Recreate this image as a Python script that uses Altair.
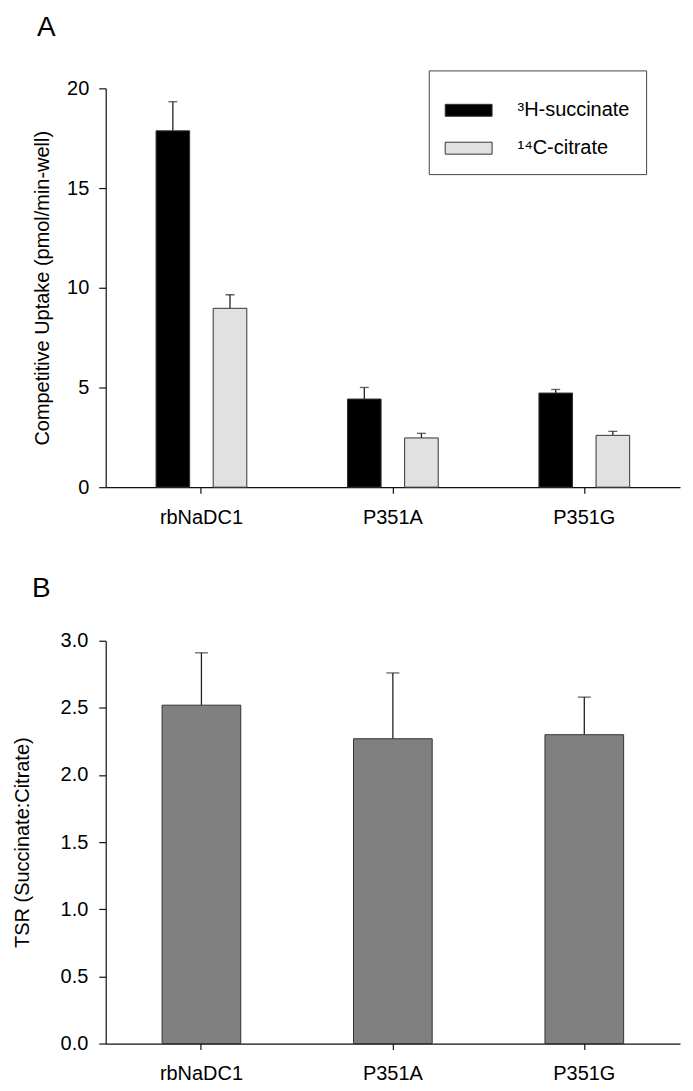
import altair as alt
import pandas as pd

categories = ["rbNaDC1", "P351A", "P351G"]
series = ["³H-succinate", "¹⁴C-citrate"]
succinate = [17.87, 4.42, 4.72]
succinate_err = [1.46, 0.58, 0.18]
citrate = [8.97, 2.47, 2.60]
citrate_err = [0.68, 0.23, 0.20]
tsr = [2.52, 2.27, 2.30]
tsr_err = [0.39, 0.49, 0.28]
yticks_a = [0, 5, 10, 15, 20]
yticks_b = [0.0, 0.5, 1.0, 1.5, 2.0, 2.5, 3.0]

rows = []
for s, vals, errs in zip(series, [succinate, citrate], [succinate_err, citrate_err]):
    for c, v, e in zip(categories, vals, errs):
        rows.append({"cat": c, "series": s, "value": v, "hi": v + e})
df_a = pd.DataFrame(rows)
df_b = pd.DataFrame({"cat": categories, "value": tsr,
                     "hi": [v + e for v, e in zip(tsr, tsr_err)]})

FONT = "Liberation Sans"

# ---------- Panel A ----------
x_a = alt.X("cat:N", sort=categories,
            scale=alt.Scale(paddingInner=0.526, paddingOuter=0.263),
            axis=alt.Axis(title=None, labelAngle=0, labelPadding=14, tickSize=6))
xo_a = alt.XOffset("series:N", sort=series,
                   scale=alt.Scale(domain=series, paddingInner=0.412, paddingOuter=0))
ya_scale = alt.Scale(domain=[0, 20], nice=False, zero=True)
ya_axis = alt.Axis(values=yticks_a, title="Competitive Uptake (pmol/min-well)",
                   titlePadding=14, labelPadding=10)

bars_a = alt.Chart(df_a).mark_bar(stroke="#333333", strokeWidth=1).encode(
    x=x_a, xOffset=xo_a,
    y=alt.Y("value:Q", scale=ya_scale, axis=ya_axis),
    color=alt.Color("series:N", sort=series,
                    scale=alt.Scale(domain=series, range=["#000000", "#e1e1e1"]),
                    legend=alt.Legend(title=None, orient="none", legendX=324, legendY=-18,
                                      direction="vertical",
                                      symbolType="M-1,-0.255H1V0.255H-1Z",
                                      symbolSize=2209, symbolStrokeColor="#333333",
                                      symbolStrokeWidth=1, symbolOpacity=1,
                                      labelFont=FONT, labelFontSize=20, labelColor="black",
                                      labelOffset=25, padding=16, rowPadding=4,
                                      strokeColor="#444444", fillColor="white")),
)
err_a = alt.Chart(df_a).mark_rule(color="#222222", strokeWidth=1.3).encode(
    x=x_a, xOffset=xo_a,
    y=alt.Y("value:Q", scale=ya_scale, axis=ya_axis), y2="hi:Q")
cap_a = alt.Chart(df_a).mark_tick(color="#222222", thickness=1.3, size=9).encode(
    x=x_a, xOffset=xo_a,
    y=alt.Y("hi:Q", scale=ya_scale, axis=ya_axis))

chart_a = alt.layer(err_a, bars_a, cap_a).properties(
    width=576, height=400,
    title=alt.TitleParams("A", anchor="start", frame="group", dx=-69, offset=37,
                          fontSize=28, font=FONT, fontWeight="normal", color="black"))

# ---------- Panel B ----------
x_b = alt.X("cat:N", sort=categories,
            scale=alt.Scale(paddingInner=0.589, paddingOuter=0.2945),
            axis=alt.Axis(title=None, labelAngle=0, labelPadding=14, tickSize=6))
yb_scale = alt.Scale(domain=[0, 3], nice=False, zero=True)
yb_axis = alt.Axis(values=yticks_b, format=".1f", title="TSR (Succinate:Citrate)",
                   titlePadding=28, labelPadding=11)

bars_b = alt.Chart(df_b).mark_bar(color="#808080", stroke="#333333", strokeWidth=1).encode(
    x=x_b, y=alt.Y("value:Q", scale=yb_scale, axis=yb_axis))
err_b = alt.Chart(df_b).mark_rule(color="#222222", strokeWidth=1.3).encode(
    x=x_b, y=alt.Y("value:Q", scale=yb_scale, axis=yb_axis), y2="hi:Q")
cap_b = alt.Chart(df_b).mark_tick(color="#222222", thickness=1.3, size=13).encode(
    x=x_b, y=alt.Y("hi:Q", scale=yb_scale, axis=yb_axis))

chart_b = alt.layer(err_b, bars_b, cap_b).properties(
    width=576, height=404,
    title=alt.TitleParams("B", anchor="start", frame="group", dx=-74, offset=28,
                          fontSize=28, font=FONT, fontWeight="normal", color="black"))

chart = alt.vconcat(chart_a, chart_b, spacing=48).properties(
    padding={"left": 4, "top": 4, "right": 5, "bottom": 5}
).configure_view(stroke=None).configure_axis(
    grid=False, domainColor="#111111", domainWidth=1.2, tickColor="#111111",
    tickWidth=1.2, tickSize=7, labelFont=FONT, labelFontSize=20, labelColor="black",
    titleFont=FONT, titleFontSize=20, titleFontWeight="normal", titleColor="black"
)

chart.save("out.html", embed_options={"renderer": "svg", "actions": False})
